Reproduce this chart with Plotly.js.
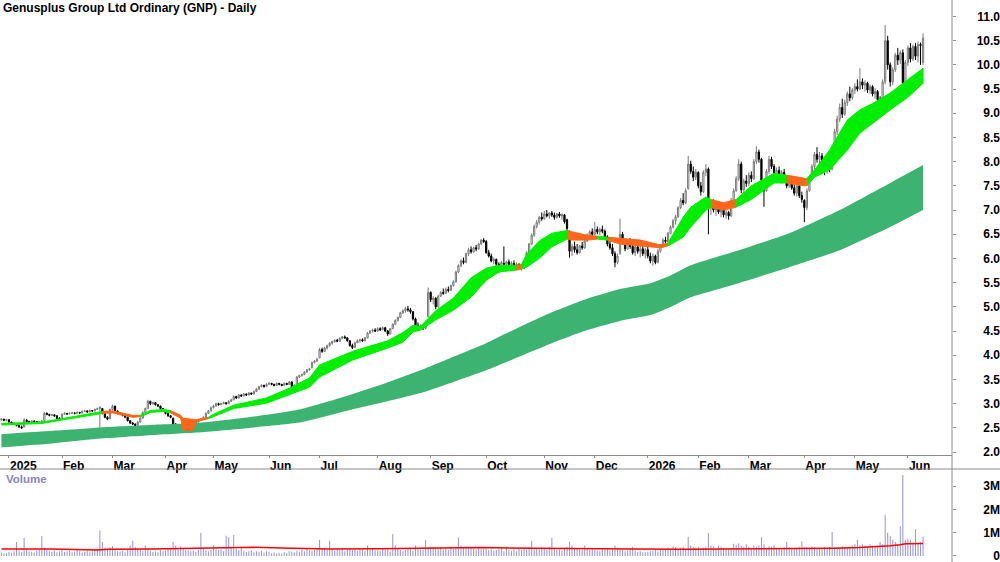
<!DOCTYPE html>
<html><head><meta charset="utf-8">
<script src="https://cdn.plot.ly/plotly-3.0.1.min.js"></script>
<style>html,body{margin:0;padding:0;background:#fff}#chart{width:1000px;height:562px}</style>
</head><body><div id="chart"></div>
<script>
// ---- month ticks (trading-day index of first session of each month) ----
const monthTickIdx = [3,24,44,65,84,106,126,149,170,192,215,235,256,276,296,318,338,359];
const monthTickText = ['2025','Feb','Mar','Apr','May','Jun','Jul','Aug','Sep','Oct','Nov','Dec','2026','Feb','Mar','Apr','May','Jun'];

// ---- daily OHLC (Dec 2024 .. Jun 2026), one line per month ----
const open = [
2.66,2.68,2.66,
2.67,2.62,2.60,2.58,2.55,2.52,2.52,2.66,2.63,2.62,2.64,2.63,2.61,2.62,2.65,2.80,2.78,2.76,2.77,2.75,2.70,
2.69,2.78,2.80,2.79,2.80,2.81,2.80,2.82,2.81,2.84,2.85,2.83,2.86,2.85,2.88,2.90,2.90,2.80,2.72,2.69,
2.88,2.95,2.85,2.80,2.78,2.76,2.72,2.65,2.60,2.58,2.55,2.62,2.70,2.82,2.90,3.05,3.00,3.02,2.98,2.95,2.90,
2.85,2.80,2.75,2.70,2.58,2.52,2.56,2.50,2.55,2.60,2.58,2.62,2.56,2.62,2.65,2.68,2.72,2.80,2.85,
2.92,2.95,3.00,2.98,3.00,3.02,3.00,3.05,3.08,3.15,3.12,3.18,3.16,3.20,3.18,3.22,3.20,3.25,3.30,3.35,3.38,3.36,
3.40,3.42,3.40,3.38,3.42,3.40,3.38,3.42,3.40,3.45,3.35,3.40,3.55,3.58,3.60,3.65,3.70,3.74,3.85,3.88,
3.95,4.12,4.08,4.15,4.20,4.25,4.28,4.31,4.29,4.35,4.38,4.36,4.30,4.20,4.16,4.26,4.30,4.32,4.30,4.36,4.46,4.50,4.52,
4.50,4.55,4.53,4.57,4.50,4.44,4.55,4.64,4.72,4.78,4.88,4.92,4.96,4.94,4.90,4.75,4.62,4.58,4.60,4.56,4.80,
5.30,5.15,5.18,5.00,5.22,5.30,5.28,5.36,5.34,5.44,5.52,5.72,5.85,5.95,5.92,6.10,6.18,6.14,6.22,6.20,6.30,6.38,
6.35,6.12,6.05,5.95,5.98,5.88,5.85,5.90,5.88,5.93,5.87,5.90,5.85,5.88,5.80,5.85,5.85,6.12,6.30,6.48,6.66,6.75,6.85,
6.82,6.92,6.88,6.94,6.90,6.85,6.92,6.88,6.90,6.80,6.55,6.15,6.25,6.18,6.12,6.26,6.22,6.36,6.48,6.55,
6.50,6.60,6.55,6.60,6.56,6.45,6.30,6.22,6.10,5.92,6.10,6.50,6.32,6.20,6.35,6.25,6.12,6.24,6.15,6.20,6.10,
6.18,6.05,5.95,6.05,5.92,6.15,6.26,6.38,6.35,6.52,6.65,6.78,6.86,7.05,7.20,7.15,7.45,7.95,7.80,7.68,
7.78,7.50,7.38,7.78,7.85,7.05,7.12,7.00,7.10,6.96,7.05,6.90,6.95,6.88,7.20,7.40,7.65,7.95,7.42,7.60,
7.55,7.72,7.65,8.00,8.20,8.05,7.55,7.40,7.80,8.05,7.90,7.70,7.82,7.65,7.78,7.62,7.50,7.66,7.46,7.35,7.50,7.30,
7.20,7.05,7.40,7.68,7.90,8.15,8.05,8.12,7.90,7.80,7.92,7.85,8.30,8.62,8.88,9.12,8.98,9.22,9.40,9.32,
9.48,9.55,9.50,9.65,9.58,9.62,9.48,9.55,9.40,9.45,9.28,9.20,9.65,10.50,10.00,9.65,9.90,10.20,10.10,10.25,9.62,
10.05,10.35,10.12,10.38,10.18,10.42,10.05];
const high = [
2.70,2.69,2.68,
2.67,2.63,2.61,2.59,2.56,2.55,2.70,2.68,2.65,2.66,2.66,2.64,2.64,2.66,2.83,2.82,2.79,2.79,2.78,2.76,2.72,
2.80,2.82,2.81,2.82,2.83,2.82,2.84,2.83,2.86,2.87,2.86,2.88,2.87,2.90,2.92,2.95,2.91,2.81,2.74,2.90,
2.98,2.96,2.86,2.82,2.80,2.77,2.73,2.66,2.62,2.59,2.64,2.72,2.84,2.92,3.08,3.06,3.04,3.03,2.99,2.96,2.91,
2.86,2.82,2.76,2.71,2.60,2.58,2.57,2.57,2.62,2.62,2.64,2.63,2.64,2.67,2.70,2.74,2.82,2.87,2.94,
2.98,3.02,3.02,3.02,3.04,3.03,3.07,3.10,3.17,3.16,3.20,3.19,3.22,3.21,3.24,3.23,3.27,3.32,3.37,3.40,3.39,3.42,
3.44,3.43,3.41,3.44,3.43,3.41,3.44,3.43,3.47,3.46,3.40,3.57,3.60,3.62,3.67,3.72,3.74,3.87,3.90,3.95,
4.15,4.16,4.18,4.22,4.27,4.30,4.33,4.34,4.37,4.40,4.41,4.37,4.31,4.24,4.28,4.33,4.34,4.35,4.38,4.48,4.52,4.55,4.56,
4.58,4.58,4.60,4.58,4.52,4.56,4.66,4.74,4.80,4.90,4.95,5.00,5.02,4.98,4.91,4.78,4.68,4.64,4.63,4.66,5.40,
5.32,5.22,5.20,5.25,5.32,5.38,5.40,5.42,5.46,5.55,5.75,5.88,5.98,6.02,6.12,6.22,6.25,6.24,6.28,6.32,6.40,6.42,
6.38,6.18,6.10,6.02,6.00,5.92,5.95,6.25,5.95,5.98,5.94,5.96,5.92,5.90,5.88,5.92,6.15,6.32,6.52,6.70,6.80,6.88,6.95,
6.98,7.00,6.96,6.98,6.95,6.94,6.96,6.93,6.92,6.82,6.58,6.30,6.35,6.30,6.28,6.34,6.40,6.52,6.58,6.62,
6.75,6.66,6.64,6.68,6.60,6.48,6.36,6.30,6.15,6.10,6.82,6.55,6.40,6.38,6.42,6.30,6.28,6.32,6.26,6.30,6.22,
6.25,6.12,6.10,6.08,6.20,6.30,6.42,6.45,6.55,6.68,6.82,6.90,7.08,7.25,7.35,7.45,8.12,8.02,7.90,7.85,
7.80,7.58,7.82,7.95,7.88,7.20,7.22,7.15,7.18,7.10,7.08,7.00,6.98,7.25,7.45,7.70,8.05,8.00,7.65,7.72,
7.78,7.80,8.05,8.32,8.25,8.08,7.60,7.85,8.12,8.10,7.95,7.88,7.90,7.82,7.85,7.70,7.72,7.70,7.58,7.55,7.52,7.38,
7.22,7.45,7.72,7.95,8.20,8.30,8.20,8.18,7.98,7.95,7.98,8.35,8.68,8.95,9.20,9.30,9.28,9.45,9.55,9.52,
9.62,9.70,9.93,9.72,9.68,9.65,9.60,9.58,9.52,9.48,9.35,9.70,10.82,10.60,10.05,9.95,10.25,10.35,10.30,10.32,10.10,
10.40,10.45,10.42,10.45,10.48,10.46,10.65];
const low = [
2.65,2.64,2.64,
2.61,2.59,2.56,2.53,2.50,2.48,2.51,2.61,2.60,2.61,2.61,2.59,2.60,2.61,2.64,2.76,2.74,2.75,2.73,2.68,2.66,
2.68,2.77,2.77,2.78,2.79,2.78,2.79,2.79,2.80,2.83,2.82,2.82,2.84,2.84,2.87,2.33,2.78,2.70,2.66,2.68,
2.86,2.84,2.78,2.76,2.74,2.70,2.63,2.58,2.56,2.52,2.54,2.61,2.69,2.81,2.89,2.97,2.98,2.96,2.93,2.88,2.83,
2.78,2.73,2.70,2.55,2.42,2.50,2.47,2.49,2.53,2.55,2.57,2.54,2.55,2.61,2.64,2.67,2.71,2.79,2.84,
2.90,2.94,2.96,2.97,2.99,2.98,2.99,3.04,3.07,3.10,3.11,3.14,3.15,3.16,3.17,3.18,3.19,3.24,3.29,3.34,3.33,3.35,
3.39,3.38,3.36,3.37,3.38,3.36,3.37,3.38,3.39,3.32,3.33,3.39,3.53,3.56,3.59,3.64,3.68,3.73,3.83,3.86,
3.94,4.05,4.07,4.12,4.18,4.22,4.26,4.27,4.28,4.33,4.34,4.28,4.18,4.13,4.15,4.25,4.26,4.28,4.29,4.35,4.44,4.47,4.48,
4.48,4.50,4.52,4.48,4.40,4.43,4.54,4.62,4.70,4.77,4.85,4.88,4.90,4.86,4.72,4.60,4.55,4.54,4.52,4.54,4.78,
5.10,5.05,4.95,4.98,5.20,5.25,5.27,5.30,5.33,5.42,5.50,5.70,5.82,5.88,5.90,6.05,6.10,6.12,6.15,6.18,6.28,6.32,
6.10,6.02,5.92,5.88,5.85,5.70,5.82,5.85,5.82,5.85,5.84,5.82,5.80,5.76,5.75,5.78,5.84,6.10,6.28,6.45,6.62,6.70,6.78,
6.80,6.85,6.82,6.86,6.80,6.82,6.84,6.80,6.72,6.58,6.02,6.05,6.12,6.08,6.10,6.18,6.20,6.34,6.42,6.45,
6.48,6.50,6.48,6.52,6.40,6.25,6.18,6.05,5.82,5.88,6.08,6.28,6.15,6.18,6.20,6.08,6.05,6.10,6.02,6.05,6.00,
6.00,5.90,5.85,5.88,5.90,6.12,6.22,6.30,6.33,6.50,6.62,6.70,6.84,7.02,7.10,7.12,7.42,7.75,7.60,7.62,
7.45,7.30,7.35,7.70,6.50,6.90,6.95,6.88,6.92,6.85,6.85,6.82,6.80,6.86,7.15,7.38,7.60,7.35,7.38,7.48,
7.50,7.58,7.62,7.95,7.98,7.55,7.07,7.38,7.75,7.85,7.65,7.62,7.60,7.55,7.58,7.45,7.46,7.42,7.30,7.28,7.25,7.15,
6.75,7.00,7.38,7.62,7.85,7.98,7.90,7.85,7.72,7.75,7.78,7.82,8.25,8.55,8.82,8.90,8.95,9.15,9.25,9.28,
9.40,9.45,9.48,9.50,9.45,9.42,9.40,9.35,9.30,9.22,9.05,9.15,9.60,9.90,9.55,9.58,9.85,10.00,10.02,9.55,9.58,
9.98,10.05,10.08,10.10,10.05,10.00,10.00];
const close = [
2.68,2.66,2.67,
2.62,2.60,2.58,2.55,2.52,2.50,2.66,2.63,2.62,2.64,2.63,2.61,2.62,2.64,2.80,2.78,2.76,2.77,2.75,2.70,2.68,
2.78,2.80,2.79,2.80,2.81,2.80,2.82,2.81,2.84,2.85,2.83,2.86,2.85,2.88,2.90,2.92,2.80,2.72,2.68,2.88,
2.95,2.85,2.80,2.78,2.76,2.72,2.65,2.60,2.58,2.55,2.62,2.70,2.82,2.90,3.05,3.00,3.02,2.98,2.95,2.90,2.85,
2.80,2.75,2.72,2.58,2.52,2.55,2.50,2.55,2.60,2.58,2.62,2.56,2.62,2.65,2.68,2.72,2.80,2.85,2.92,
2.95,3.00,2.98,3.00,3.02,3.00,3.05,3.08,3.15,3.12,3.18,3.16,3.20,3.18,3.22,3.20,3.25,3.30,3.35,3.38,3.36,3.40,
3.42,3.40,3.38,3.42,3.40,3.38,3.42,3.40,3.45,3.35,3.38,3.55,3.58,3.60,3.65,3.70,3.72,3.85,3.88,3.92,
4.12,4.08,4.15,4.20,4.25,4.28,4.31,4.29,4.35,4.38,4.36,4.30,4.20,4.16,4.26,4.30,4.32,4.30,4.36,4.46,4.50,4.52,4.50,
4.55,4.53,4.57,4.50,4.44,4.55,4.64,4.72,4.78,4.88,4.92,4.96,4.94,4.90,4.75,4.62,4.58,4.60,4.56,4.62,5.30,
5.15,5.18,5.00,5.22,5.30,5.28,5.36,5.34,5.44,5.52,5.72,5.85,5.95,5.92,6.10,6.18,6.14,6.22,6.20,6.30,6.38,6.35,
6.12,6.05,5.95,5.98,5.88,5.85,5.92,5.88,5.93,5.87,5.90,5.85,5.88,5.80,5.85,5.82,6.12,6.30,6.48,6.66,6.75,6.85,6.82,
6.92,6.88,6.94,6.90,6.85,6.92,6.88,6.90,6.76,6.62,6.15,6.25,6.18,6.12,6.26,6.22,6.36,6.48,6.55,6.50,
6.60,6.55,6.60,6.56,6.45,6.30,6.22,6.10,5.92,6.05,6.50,6.32,6.20,6.35,6.25,6.12,6.24,6.15,6.20,6.10,6.18,
6.05,5.95,6.05,5.92,6.15,6.26,6.38,6.35,6.52,6.65,6.78,6.86,7.05,7.20,7.15,7.40,7.95,7.80,7.68,7.78,
7.50,7.38,7.78,7.85,7.05,7.12,7.00,7.10,6.96,7.05,6.90,6.95,6.88,7.20,7.40,7.65,7.95,7.42,7.60,7.55,
7.72,7.65,8.00,8.20,8.05,7.62,7.40,7.80,8.05,7.90,7.70,7.82,7.65,7.78,7.62,7.50,7.66,7.46,7.35,7.50,7.30,7.22,
7.05,7.40,7.68,7.90,8.15,8.05,8.12,7.90,7.80,7.92,7.85,8.30,8.62,8.88,9.12,8.98,9.22,9.40,9.32,9.48,
9.55,9.50,9.65,9.58,9.62,9.48,9.55,9.40,9.45,9.28,9.20,9.65,10.50,10.00,9.65,9.90,10.20,10.10,10.25,9.62,10.05,
10.35,10.12,10.38,10.18,10.42,10.40,10.55];

// ---- daily volume, thousands of shares ----
const volumeK = [
150,90,120,
180,140,200,600,220,160,770,300,200,180,150,220,260,860,350,250,200,180,220,160,200,
250,180,200,220,160,190,240,200,150,180,220,160,200,250,300,1090,600,350,300,370,
420,260,200,180,220,160,250,450,650,380,300,250,200,450,300,220,180,200,160,240,200,
220,300,350,600,450,280,420,300,260,240,200,220,180,250,980,300,240,200,260,
450,300,250,280,200,870,800,350,900,300,250,400,220,180,200,240,160,200,180,220,150,200,
180,120,150,100,140,90,160,120,200,180,150,220,180,250,200,300,240,220,260,300,
700,300,350,250,650,280,220,300,250,350,200,260,300,250,280,220,300,250,200,450,260,300,240,
220,200,300,250,280,200,940,450,300,250,200,240,300,280,220,450,300,260,240,700,380,
400,380,350,300,380,280,300,250,350,300,400,800,450,380,420,400,350,300,280,350,300,320,
300,250,280,220,260,300,350,200,400,250,220,280,200,300,250,350,280,400,650,350,300,280,400,
300,250,400,770,300,250,280,220,350,400,600,450,350,300,280,250,450,300,250,280,
250,220,200,280,250,300,220,250,450,350,300,250,200,220,250,400,220,180,200,150,160,
180,200,220,250,200,250,300,280,350,300,420,380,300,350,400,300,810,450,400,350,
380,300,350,400,980,450,400,300,450,400,350,300,280,350,520,480,550,450,400,500,
400,350,450,380,450,800,500,350,420,400,450,350,300,280,350,600,380,300,320,350,400,620,
400,380,350,420,380,300,350,280,400,350,380,1030,400,380,350,420,380,350,400,450,
500,700,450,500,450,400,500,450,400,450,600,500,1770,1000,850,700,600,500,1280,3470,700,
720,700,550,1160,500,600,840];

// ---- volume average line, thousands ----
const volAvgIdx = [0,20,38,42,60,80,100,115,130,150,170,190,210,230,250,270,290,310,330,340,348,352,356,358,365];
const volAvgK   = [300,300,260,290,300,330,370,330,300,310,340,360,330,330,300,290,300,310,330,360,400,440,480,520,530];

// ---- long-term moving-average band (upper / lower edge) ----
const longIdx = [0,20,39,59,79,98,118,138,152,166,179,192,205,218,232,245,257,265,273,292,312,332,352,365];
const longUp  = [2.37,2.44,2.51,2.56,2.61,2.72,2.88,3.18,3.42,3.69,3.97,4.25,4.58,4.89,5.17,5.37,5.49,5.65,5.86,6.17,6.52,7.00,7.56,7.93];
const longLo  = [2.10,2.18,2.28,2.35,2.41,2.50,2.61,2.87,3.04,3.22,3.45,3.69,3.97,4.25,4.52,4.71,4.83,5.00,5.20,5.49,5.82,6.17,6.65,7.00];

// ---- short-term moving-average band: edges and state (g = rising, o = falling) ----
const shortIdx = [0,16,26,39,40,44,52,55,59,64,67,71,72,76,77,82,84,92,105,114,122,126,139,153,159,163,166,172,179,186,192,197,204,206,208,213,218,224,226,232,236,240,245,253,261,264,270,273,279,281,286,291,297,306,311,315,319,322,328,335,340,345,352,359,365];
const shortUp  = [2.59,2.62,2.71,2.83,2.84,2.85,2.76,2.76,2.86,2.88,2.86,2.76,2.70,2.68,2.67,2.72,2.78,2.97,3.12,3.32,3.53,3.80,4.08,4.30,4.47,4.62,4.60,4.92,5.18,5.60,5.80,5.86,5.86,5.88,6.08,6.36,6.52,6.58,6.55,6.48,6.46,6.44,6.42,6.38,6.28,6.32,6.85,7.06,7.27,7.22,7.15,7.22,7.50,7.76,7.72,7.68,7.65,7.83,8.24,8.86,9.07,9.20,9.42,9.69,9.93];
const shortLo  = [2.56,2.59,2.68,2.79,2.80,2.81,2.72,2.73,2.82,2.84,2.81,2.70,2.45,2.45,2.63,2.69,2.74,2.90,3.01,3.18,3.34,3.55,3.90,4.15,4.27,4.48,4.52,4.73,4.93,5.20,5.55,5.72,5.76,5.78,5.82,6.00,6.24,6.40,6.38,6.38,6.40,6.38,6.30,6.26,6.22,6.26,6.44,6.65,7.00,7.05,7.00,7.06,7.22,7.56,7.56,7.52,7.50,7.68,7.83,8.24,8.59,8.80,9.07,9.33,9.62];
const shortState = ['g','g','g','g','o','o','o','g','g','g','o','o','o','o','o','g','g','g','g','g','g','g','g','g','g','g','g','g','g','g','g','g','o','g','g','g','g','o','o','o','g','o','o','o','o','g','g','g','g','o','o','g','g','g','o','o','g','g','g','g','g','g','g','g','g'];

const priceTicks = [2,2.5,3,3.5,4,4.5,5,5.5,6,6.5,7,7.5,8,8.5,9,9.5,10,10.5,11];
const volTicks = [0,1e6,2e6,3e6];
const volTickText = ['0','1M','2M','3M'];

// ---------------------------------------------------------------
const idx = close.map((_, i) => i);
const volume = volumeK.map(v => v * 1000);
const FONT = 'Liberation Sans, Arial, Helvetica, sans-serif';
const GREEN = '#00ee00', ORANGE = '#ff661a', LONGC = '#3cb371';

const traces = [];
// long band
traces.push({type:'scatter', mode:'lines', x:longIdx, y:longLo, line:{width:0, shape:'spline', smoothing:0.5, color:LONGC}, hoverinfo:'skip', showlegend:false});
traces.push({type:'scatter', mode:'lines', x:longIdx, y:longUp, line:{width:0, shape:'spline', smoothing:0.5, color:LONGC}, fill:'tonexty', fillcolor:LONGC, hoverinfo:'skip', showlegend:false});

// short band, split into runs of the same state
let s = 0;
for (let k = 1; k <= shortIdx.length; k++) {
  if (k === shortIdx.length || shortState[k] !== shortState[s]) {
    const e = Math.min(k, shortIdx.length - 1);
    if (e > s) {
      const xs = shortIdx.slice(s, e + 1), u = shortUp.slice(s, e + 1), l = shortLo.slice(s, e + 1);
      const c = shortState[s] === 'g' ? GREEN : ORANGE;
      traces.push({type:'scatter', mode:'lines', x: xs.concat(xs.slice().reverse()), y: u.concat(l.slice().reverse()),
        fill:'toself', fillcolor:c, line:{color:c, width:1}, hoverinfo:'skip', showlegend:false});
    }
    s = k;
  }
}

// candles
traces.push({type:'candlestick', x:idx, open:open, high:high, low:low, close:close,
  increasing:{line:{color:'#7a7a7a', width:1}, fillcolor:'#ffffff'},
  decreasing:{line:{color:'#000000', width:1}, fillcolor:'#000000'},
  whiskerwidth:0, hoverinfo:'skip', showlegend:false});

// dummy for right-aligned label axis
traces.push({type:'scatter', mode:'lines', x:[0], y:[null], yaxis:'y3', hoverinfo:'skip', showlegend:false});

// volume
traces.push({type:'bar', x:idx, y:volume, xaxis:'x2', yaxis:'y2', width:0.42,
  marker:{color:'#9898dc', line:{width:0}}, hoverinfo:'skip', showlegend:false});
traces.push({type:'scatter', mode:'lines', x:volAvgIdx, y:volAvgK.map(v => v * 1000), xaxis:'x2', yaxis:'y2',
  line:{color:'#ff0000', width:1.5}, hoverinfo:'skip', showlegend:false});
traces.push({type:'scatter', mode:'lines', x:[0], y:[null], xaxis:'x2', yaxis:'y4', hoverinfo:'skip', showlegend:false});

const xr = [-0.554, 376.47];
const volRange = [-0.26e6, 3.69e6];
const tickFont = {family:FONT, size:12, color:'#000', weight:'bold'};
const PR = 1 - 455/562, VT = 92/562;

const layout = {
  width:1000, height:562, margin:{l:0, r:0, t:0, b:0},
  paper_bgcolor:'#ffffff', plot_bgcolor:'#ffffff',
  showlegend:false, hovermode:false,
  title:{text:'Genusplus Group Ltd Ordinary (GNP) - Daily', x:0.003, xanchor:'left', xref:'container',
    y:1 - 8/562, yanchor:'middle', yref:'container', font:{family:FONT, size:12, color:'#000', weight:'bold'}},
  xaxis:{domain:[0, 0.952], anchor:'y', range:xr, rangeslider:{visible:false}, showgrid:false, zeroline:false,
    showline:true, linecolor:'#8c8c8c', linewidth:1, ticks:'outside', ticklen:2, tickcolor:'#8c8c8c',
    tickmode:'array', tickvals:monthTickIdx, ticktext:monthTickText, ticklabelposition:'outside right',
    tickfont:tickFont, fixedrange:true},
  yaxis:{domain:[PR, 1], anchor:'x', side:'right', range:[1.94, 11.34], showgrid:false, zeroline:false,
    showline:false, ticks:'outside', ticklen:3, tickcolor:'#8c8c8c', tickmode:'array', tickvals:priceTicks,
    showticklabels:false, fixedrange:true},
  yaxis3:{overlaying:'y', anchor:'free', position:1, side:'left', range:[1.94, 11.34], showgrid:false,
    zeroline:false, showline:false, ticks:'', tickmode:'array', tickvals:priceTicks,
    ticktext:priceTicks.map(v => v.toFixed(1)), tickfont:tickFont, fixedrange:true},
  xaxis2:{domain:[0, 0.952], anchor:'y2', range:xr, showgrid:false, zeroline:false, showline:false,
    ticks:'', showticklabels:false, fixedrange:true},
  yaxis2:{domain:[0, VT], anchor:'x2', side:'right', range:volRange, showgrid:false, zeroline:false,
    showline:false, ticks:'outside', ticklen:3, tickcolor:'#8c8c8c', tickmode:'array', tickvals:volTicks,
    showticklabels:false, fixedrange:true},
  yaxis4:{overlaying:'y2', anchor:'free', position:1, side:'left', range:volRange, showgrid:false,
    zeroline:false, showline:false, ticks:'', tickmode:'array', tickvals:volTicks, ticktext:volTickText,
    ticklabeloverflow:'allow', tickfont:tickFont, fixedrange:true},
  shapes:[
    {type:'line', xref:'paper', yref:'paper', x0:0.952, x1:0.952, y0:0, y1:1, line:{color:'#8c8c8c', width:1}},
    {type:'line', xref:'paper', yref:'paper', x0:0, x1:1, y0:1 - 469/562, y1:1 - 469/562, line:{color:'#8c8c8c', width:1}}
  ],
  annotations:[
    {text:'Volume', xref:'paper', yref:'paper', x:0.004, y:1 - 479/562, xanchor:'left', yanchor:'middle',
     showarrow:false, font:{family:FONT, size:11.5, color:'#8585c8', weight:'bold'}}
  ]
};

Plotly.newPlot('chart', traces, layout, {staticPlot:true, displayModeBar:false});
</script></body></html>
